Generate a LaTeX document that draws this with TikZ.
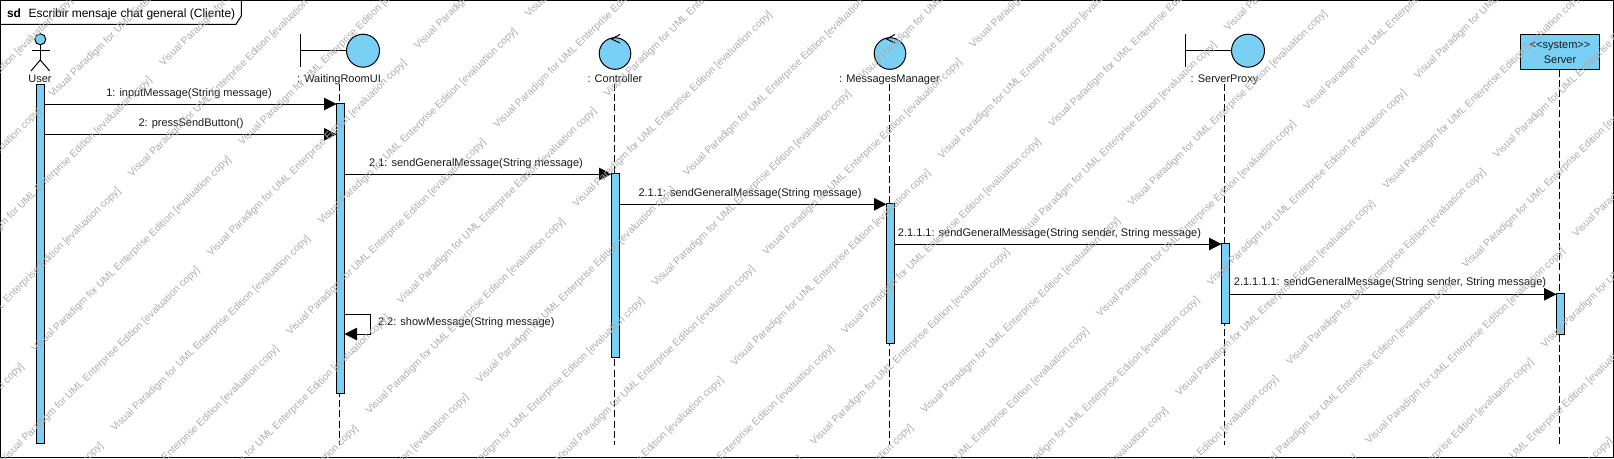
\documentclass[tikz,border=0pt]{standalone}
\usepackage{fontspec}
\setmainfont{Liberation Sans}
\usetikzlibrary{arrows.meta}
\definecolor{vpblue}{RGB}{122,207,245}
\tikzset{
  every node/.style={font=\fontsize{11}{15}\selectfont,inner sep=0pt,outer sep=0pt},
  ln/.style={line width=1pt,draw=black},
  head/.style={ln,fill=vpblue,circle,minimum size=33pt},
  ctrlhead/.style={ln,fill=vpblue,circle,minimum size=31.6pt},
  act/.style={ln,fill=vpblue,rectangle,minimum width=8pt},
  life/.style={line width=1pt,draw=black,dash pattern=on 7pt off 3.2pt},
  msg/.style={ln,-{Triangle[length=12.5pt,width=12.5pt]}},
  lbl/.style={anchor=base,text=black!90},
  wm/.style={anchor=base west,rotate=44.5,text=black!32,font=\fontsize{10.15}{12}\selectfont}
}
\begin{document}
\begin{tikzpicture}[x=1pt,y=-1pt]
\useasboundingbox (0,0) rectangle (1614,458);
\fill[white] (0,0) rectangle (1614,458);
% frame
\draw[ln] (0.5,0.5) rectangle (1613.5,457.5);
\draw[ln] (0.5,24.3) -- (236,24.3) -- (241.3,16) -- (241.3,0.5);
\node[anchor=base west,font=\fontsize{12}{14}\bfseries\selectfont] (sd) at (7,17) {sd};
\node[anchor=base west,font=\fontsize{12}{14}\selectfont] (title) at (28.5,17) {Escribir mensaje chat general (Cliente)};
% heads: actor
\node[ln,fill=vpblue,circle,minimum size=11pt] (userhead) at (40.3,39.3) {};
\coordinate (hip) at (40.3,60);
\draw[ln] (userhead.south) -- (hip);
\coordinate (armL) at (31.5,50.3); \coordinate (armR) at (49.7,50.3);
\coordinate (legL) at (31,71); \coordinate (legR) at (49.7,71);
\draw[ln] (armL) -- (armR);
\draw[ln] (legL) -- (hip) -- (legR);
\node[lbl] (userlbl) at (40,82) {User};
% boundary WaitingRoomUI
\node[head] (wrhead) at (363,50.7) {};
\coordinate (wrbarT) at (300.7,34); \coordinate (wrbarB) at (300.7,67);
\coordinate (wrbarM) at (300.7,50.7);
\draw[ln] (wrbarT) -- (wrbarB);
\draw[ln] (wrbarM) -- (wrhead.west);
\node[lbl] (wrlbl) at (339,82) {: WaitingRoomUI};
% control Controller
\node[ctrlhead] (cthead) at (615,53.5) {};
\coordinate (ctA) at (620,34.5); \coordinate (ctT) at (611.5,39); \coordinate (ctB) at (620,43);
\draw[ln] (ctA) -- (ctT) -- (ctB);
\node[lbl] (ctlbl) at (615,82) {: Controller};
% control MessagesManager
\node[ctrlhead] (mmhead) at (890,53.5) {};
\coordinate (mmA) at (895,34.5); \coordinate (mmT) at (886.5,39); \coordinate (mmB) at (895,43);
\draw[ln] (mmA) -- (mmT) -- (mmB);
\node[lbl] (mmlbl) at (889.5,82) {: MessagesManager};
% boundary ServerProxy
\node[head] (sphead) at (1248,50.7) {};
\coordinate (spbarT) at (1185.7,34); \coordinate (spbarB) at (1185.7,67);
\coordinate (spbarM) at (1185.7,50.7);
\draw[ln] (spbarT) -- (spbarB);
\draw[ln] (spbarM) -- (sphead.west);
\node[lbl] (splbl) at (1224.5,82) {: ServerProxy};
% Server
\node[ln,fill=vpblue,rectangle,minimum width=79pt,minimum height=35pt,align=center,text=black!90] (server) at (1560,52) {<{}<system>{}>\\[0pt]Server};
% lifeline ends
\coordinate (wrend) at (339.5,445);
\coordinate (ctend) at (614.5,445);
\coordinate (mmend) at (889.5,445);
\coordinate (spend) at (1224.5,445);
\coordinate (svend) at (1559.5,445);
\coordinate (wrtop) at (339.5,84);
\coordinate (cttop) at (614.5,84);
\coordinate (mmtop) at (889.5,84);
\coordinate (sptop) at (1224.5,84);
\coordinate (svtop) at (1559.5,69.5);
\draw[life] (wrtop) -- (wrend);
\draw[life] (cttop) -- (ctend);
\draw[life] (mmtop) -- (mmend);
\draw[life] (sptop) -- (spend);
\draw[life] (svtop) -- (svend);
% activations
\node[act,minimum height=359.3pt] (auser) at (40.5,263.7) {};
\node[act,minimum height=290pt] (awr) at (340.5,248.3) {};
\node[act,minimum height=184.3pt] (act) at (615.5,265.2) {};
\node[act,minimum height=140pt] (amm) at (890.5,273) {};
\node[act,minimum height=80pt] (asp) at (1225.5,283.3) {};
\node[act,minimum height=41pt] (asv) at (1560.5,313.8) {};
% messages
\draw[msg] (auser.east |- 0,104) -- (awr.west |- 0,104);
\node[lbl] (m1) at (189,96) {1: inputMessage(String message)};
\draw[msg] (auser.east |- 0,134.3) -- (awr.west |- 0,134.3);
\node[lbl] (m2) at (191,126) {2: pressSendButton()};
\draw[msg] (awr.east |- 0,174) -- (act.west |- 0,174);
\node[lbl] (m21) at (476,166) {2.1: sendGeneralMessage(String message)};
\draw[msg] (act.east |- 0,204.3) -- (amm.west |- 0,204.3);
\node[lbl] (m211) at (750,196) {2.1.1: sendGeneralMessage(String message)};
\draw[msg] (amm.east |- 0,244) -- (asp.west |- 0,244);
\node[lbl] (m2111) at (1049.5,236) {2.1.1.1: sendGeneralMessage(String sender, String message)};
\draw[msg] (asp.east |- 0,294.3) -- (asv.west |- 0,294.3);
\node[lbl] (m21111) at (1390,285.5) {2.1.1.1.1: sendGeneralMessage(String sender, String message)};
\coordinate (selfA) at (370.7,314.3); \coordinate (selfB) at (370.7,334);
\draw[msg] (awr.east |- selfA) -- (selfA) -- (selfB) -- (awr.east |- selfB);
\node[lbl,anchor=base west] (m22) at (378,325) {2.2: showMessage(String message)};
% watermark
\foreach \k in {-4,...,24} {
  \foreach \j in {-2,...,4} {
    \pgfmathsetmacro\wmS{309+79.2*\k}
    \pgfmathsetmacro\wmD{-45+414*\j+142*mod(abs(\k),2)}
    \pgfmathsetmacro\wmX{(\wmS+\wmD)/2}
    \pgfmathsetmacro\wmY{(\wmS-\wmD)/2}
    \pgfmathtruncatemacro\wmV{and(and(\wmX<1620,\wmX+200>-5),and(\wmY-200<463,\wmY>-5))}
    \ifnum\wmV=1
      \node[wm] (wm\k x\j) at (\wmX,\wmY) {Visual Paradigm for UML Enterprise Edition [evaluation copy]};
    \fi
  }
}
\end{tikzpicture}
\end{document}
